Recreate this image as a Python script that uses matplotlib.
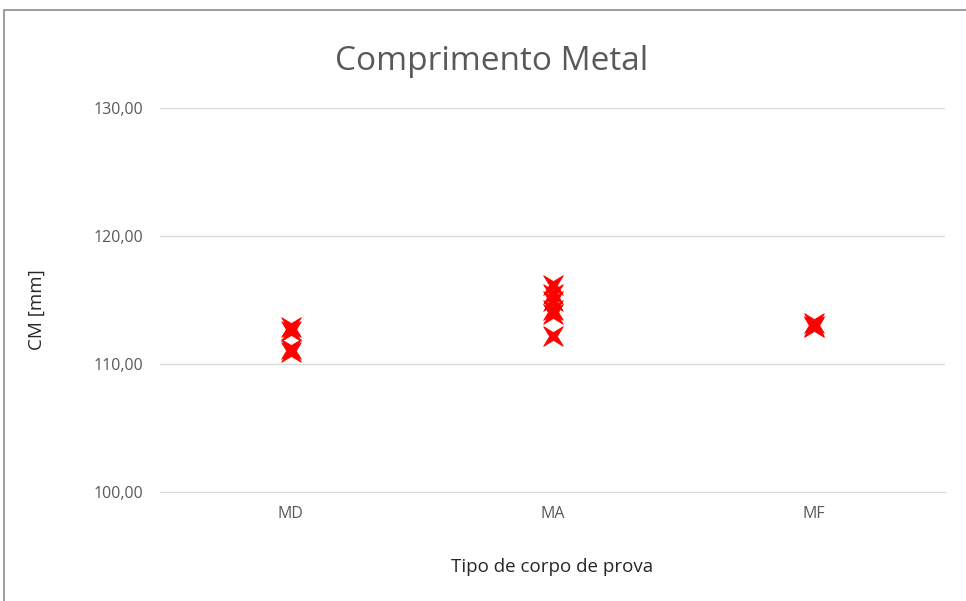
import numpy as np
import matplotlib.pyplot as plt
from matplotlib.patches import Rectangle
from matplotlib.path import Path

plt.rcParams['font.family'] = ['Open Sans', 'DejaVu Sans']

# data
categories = ['MD', 'MA', 'MF']
md_vals = [112.9, 112.6, 111.2, 110.9]
ma_vals = [116.2, 115.5, 114.9, 114.2, 113.9, 112.2]
mf_vals = [113.2, 113.0, 112.9]
series = [md_vals, ma_vals, mf_vals]

# thin four-point star, tips on the diagonals (like Excel's "x" marker)
angles = np.deg2rad(np.arange(45, 405, 45))
radii = np.array([1.0, 0.28] * 4)
verts = np.column_stack([radii * np.cos(angles), radii * np.sin(angles)])
verts = np.vstack([verts, verts[:1]])
star = Path(verts, [Path.MOVETO] + [Path.LINETO] * 7 + [Path.CLOSEPOLY])

fig = plt.figure(figsize=(9.66, 6.01), dpi=100)
ax = fig.add_axes([160 / 966, 1 - 492 / 601, 785 / 966, 384 / 601])

# chart border (cut at right and bottom like the screenshot)
fig.patches.append(Rectangle((4 / 966, -0.1), 1.2, 1 - 10 / 601 + 0.1,
                             transform=fig.transFigure, fill=False,
                             edgecolor='#8c8c8c', linewidth=1.2))

for i, vals in enumerate(series):
    ax.scatter(np.full(len(vals), i), vals, marker=star, s=200,
               color='#ff0000', edgecolors='#ff0000', linewidths=0.6,
               zorder=3)

ax.set_xlim(-0.5, 2.5)
ax.set_ylim(100, 130)
ax.set_yticks([100, 110, 120, 130])
ax.set_yticklabels(['100,00', '110,00', '120,00', '130,00'])
ax.set_xticks(range(len(categories)))
ax.set_xticklabels(categories)

ax.grid(axis='y', color='#d9d9d9', linewidth=1)
ax.set_axisbelow(True)
for s in ['top', 'right', 'left']:
    ax.spines[s].set_visible(False)
ax.spines['bottom'].set_color('#d9d9d9')
ax.tick_params(axis='both', length=0, colors='#595959', labelsize=11.5)
ax.tick_params(axis='y', pad=12)
ax.tick_params(axis='x', pad=10)

fig.text(492 / 966, 1 - 62 / 601, 'Comprimento Metal', ha='center',
         va='center', fontsize=24, color='#595959')
fig.text(37 / 966, 1 - 310 / 601, 'CM [mm]', rotation=90, ha='center',
         va='center', fontsize=13.5, color='#262626')
fig.text(552 / 966, 1 - 567 / 601, 'Tipo de corpo de prova', ha='center',
         va='center', fontsize=13.5, color='#262626')

fig.savefig('out.png', dpi=100)
